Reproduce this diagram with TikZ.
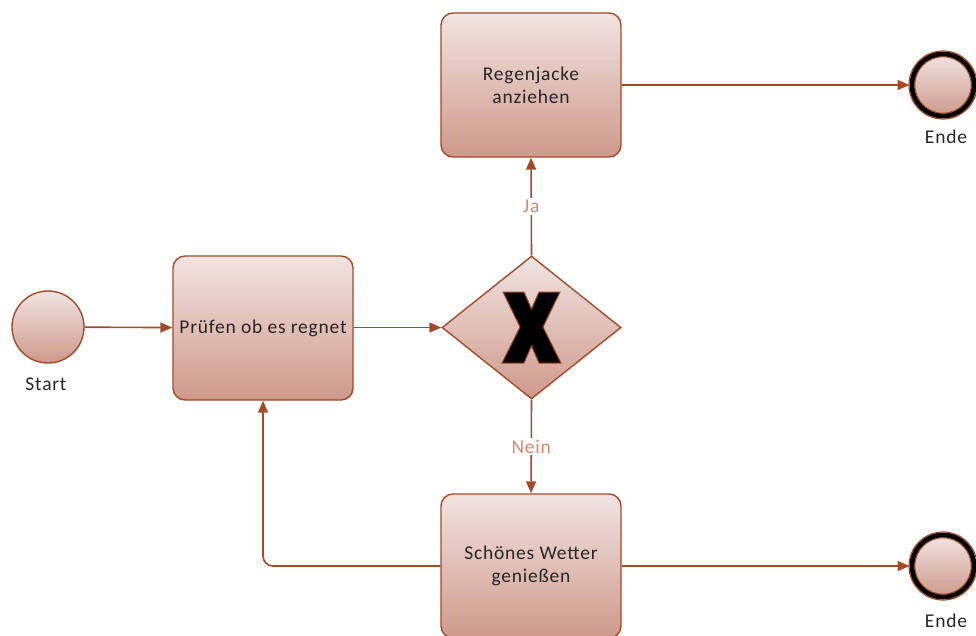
\documentclass[tikz,border=0pt]{standalone}
\usepackage{fontspec}
\setmainfont{Carlito}[LetterSpace=4]
\usetikzlibrary{arrows.meta,shapes.geometric}
\definecolor{edge}{HTML}{A44A26}
\definecolor{filltop}{HTML}{F1E4E2}
\definecolor{fillbot}{HTML}{CF998B}
\definecolor{lbl}{HTML}{D58A6C}
\definecolor{txt}{HTML}{262626}
\begin{document}
\begin{tikzpicture}[x=1pt,y=-1pt,
  every node/.style={font=\fontsize{19.5}{23}\selectfont, text=txt},
  task/.style={draw=edge, line width=1.4pt, rounded corners=12pt,
    top color=filltop, bottom color=fillbot, minimum width=180pt,
    minimum height=144pt, align=center, inner sep=0pt},
  startev/.style={circle, draw=edge, line width=1.4pt, minimum size=72pt,
    top color=filltop, bottom color=fillbot, inner sep=0pt},
  endev/.style={circle, draw=black, line width=5pt, minimum size=62pt,
    top color=filltop, bottom color=fillbot, inner sep=0pt},
  gate/.style={diamond, draw=edge, line width=1.4pt, aspect=1.25,
    minimum width=179pt, minimum height=143pt, inner sep=0pt,
    top color=filltop, bottom color=fillbot},
  flow/.style={draw=edge, line width=1.6pt,
    -{Triangle[length=12pt,width=10pt]}},
  cond/.style={text=lbl, fill=white, inner sep=2pt},
  caption/.style={inner sep=0pt}]
\useasboundingbox (0,0) rectangle (976,635);

% events
\node[startev] (start) at (48,327) {};
\node[caption] at (46,384) {Start};
\node[endev] (end1) at (943,85) {};
\draw[edge, line width=1.2pt] (end1.center) circle (34);
\draw[edge, line width=1pt] (end1.center) circle (28.2);
\node[caption] at (946,137) {Ende};
\node[endev] (end2) at (943,566) {};
\draw[edge, line width=1.2pt] (end2.center) circle (34);
\draw[edge, line width=1pt] (end2.center) circle (28.2);
\node[caption] at (946,621) {Ende};

% tasks
\node[task] (check) at (263,328) {Prüfen ob es regnet};
\node[task] (coat) at (531,85) {Regenjacke\\anziehen};
\node[task] (enjoy) at (531,566) {Schönes Wetter\\genießen};

% exclusive gateway
\node[gate] (gw) at (531.5,327.5) {};
\fill[black, draw=edge, line width=1pt]
  (503,292) -- (524,292) -- (531.5,309) -- (539,292) -- (560,292)
  -- (543,327) -- (561,363) -- (539,363) -- (531.5,346) -- (524,363)
  -- (502,363) -- (520,327) -- cycle;

% sequence flows
\draw[flow] (start) -- (check);
\draw[flow] (check.east |- gw.west) -- (gw.west);
\draw[flow] (gw.north) -- node[cond] {Ja} (coat.south);
\draw[flow] (gw.south) -- node[cond] {Nein} (enjoy.north);
\draw[flow] (coat.east) -- (end1.west);
\draw[flow] (enjoy.east) -- (end2.west);
\draw[flow, rounded corners=10pt] (enjoy.west) -| (check.south);
\end{tikzpicture}
\end{document}
